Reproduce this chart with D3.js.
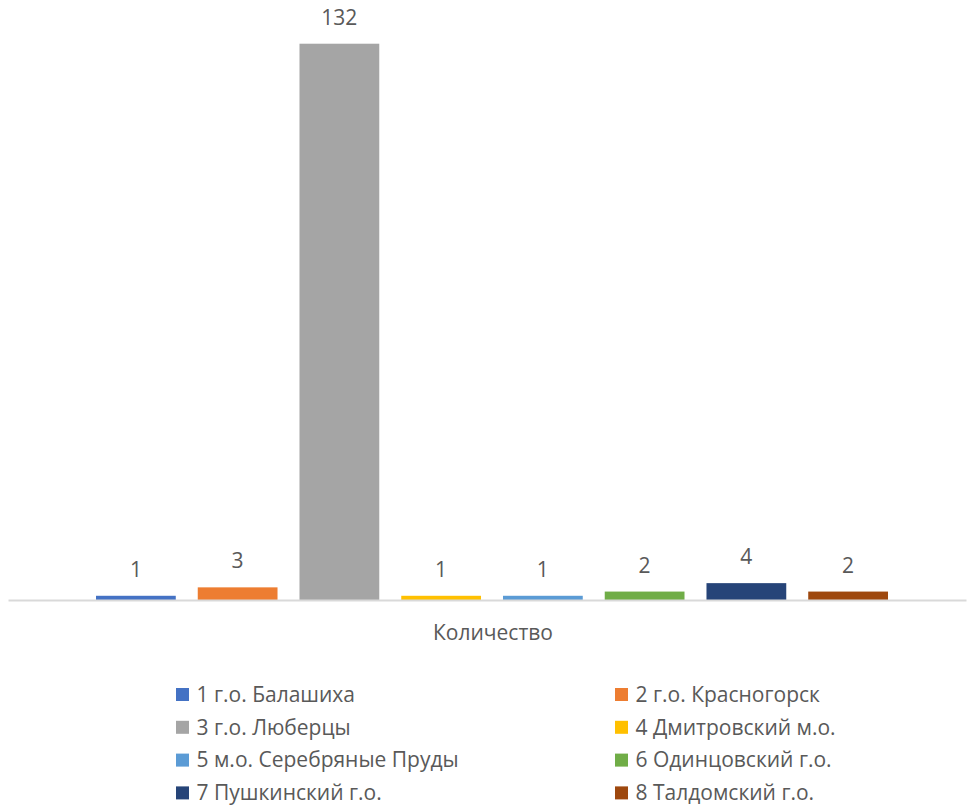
<!DOCTYPE html>
<html><head><meta charset="utf-8">
<script src="https://cdn.jsdelivr.net/npm/d3@7"></script>
<style>body{margin:0;background:#fff}svg{display:block}</style>
</head><body>
<svg id="c" width="967" height="807"></svg>
<script>
const category = "Количество";
const seriesNames = ["1 г.о. Балашиха","2 г.о. Красногорск","3 г.о. Люберцы","4 Дмитровский м.о.","5 м.о. Серебряные Пруды","6 Одинцовский г.о.","7 Пушкинский г.о.","8 Талдомский г.о."];
const values = [1,3,132,1,1,2,4,2];
const colors = ["#4472C4","#ED7D31","#A5A5A5","#FFC000","#5B9BD5","#70AD47","#264478","#9E480E"];
const yMax = 140;

const svg = d3.select("#c");
const font = "'Open Sans', 'Liberation Sans', sans-serif";
const textColor = "#595959";
const fs = 21;

const x = d3.scaleBand().domain(seriesNames).range([96, 888]).paddingInner(0.216).paddingOuter(0);
const y = d3.scaleLinear().domain([0, yMax]).range([600, 10]);

svg.selectAll("rect.bar").data(values).join("rect")
  .attr("class","bar")
  .attr("x",(d,i)=>x(seriesNames[i]))
  .attr("width",x.bandwidth())
  .attr("y",d=>y(d))
  .attr("height",d=>y(0)-y(d))
  .attr("fill",(d,i)=>colors[i]);

// axis line
const xAxis = d3.axisBottom(d3.scaleBand().domain([category]).range([8,966])).tickSize(0).tickFormat("");
const ax = svg.append("g").attr("transform",`translate(0,${y(0)})`).call(xAxis);
ax.select(".domain").attr("stroke","#d9d9d9").attr("stroke-width",2);

// category label
svg.append("text").attr("x",493).attr("y",640).attr("text-anchor","middle")
  .attr("font-family",font).attr("font-size",fs).attr("fill",textColor).text(category);

// value labels
svg.selectAll("text.val").data(values).join("text")
  .attr("class","val")
  .attr("x",(d,i)=>x(seriesNames[i])+x.bandwidth()/2)
  .attr("y",d=>y(d)-19)
  .attr("text-anchor","middle")
  .attr("font-family",font).attr("font-size",fs).attr("fill",textColor)
  .text(d=>d);

// legend
const legX = [176, 615];
const legY0 = 694.5, legDy = 32.8;
const lg = svg.selectAll("g.leg").data(seriesNames).join("g")
  .attr("class","leg")
  .attr("transform",(d,i)=>`translate(${legX[i%2]},${legY0 + Math.floor(i/2)*legDy})`);
lg.append("rect").attr("x",0).attr("y",-6.5).attr("width",13).attr("height",13).attr("fill",(d,i)=>colors[i]);
lg.append("text").attr("x",20.5).attr("y",0).attr("dy","0.35em")
  .attr("font-family",font).attr("font-size",fs).attr("fill",textColor).text(d=>d);
</script>
</body></html>
